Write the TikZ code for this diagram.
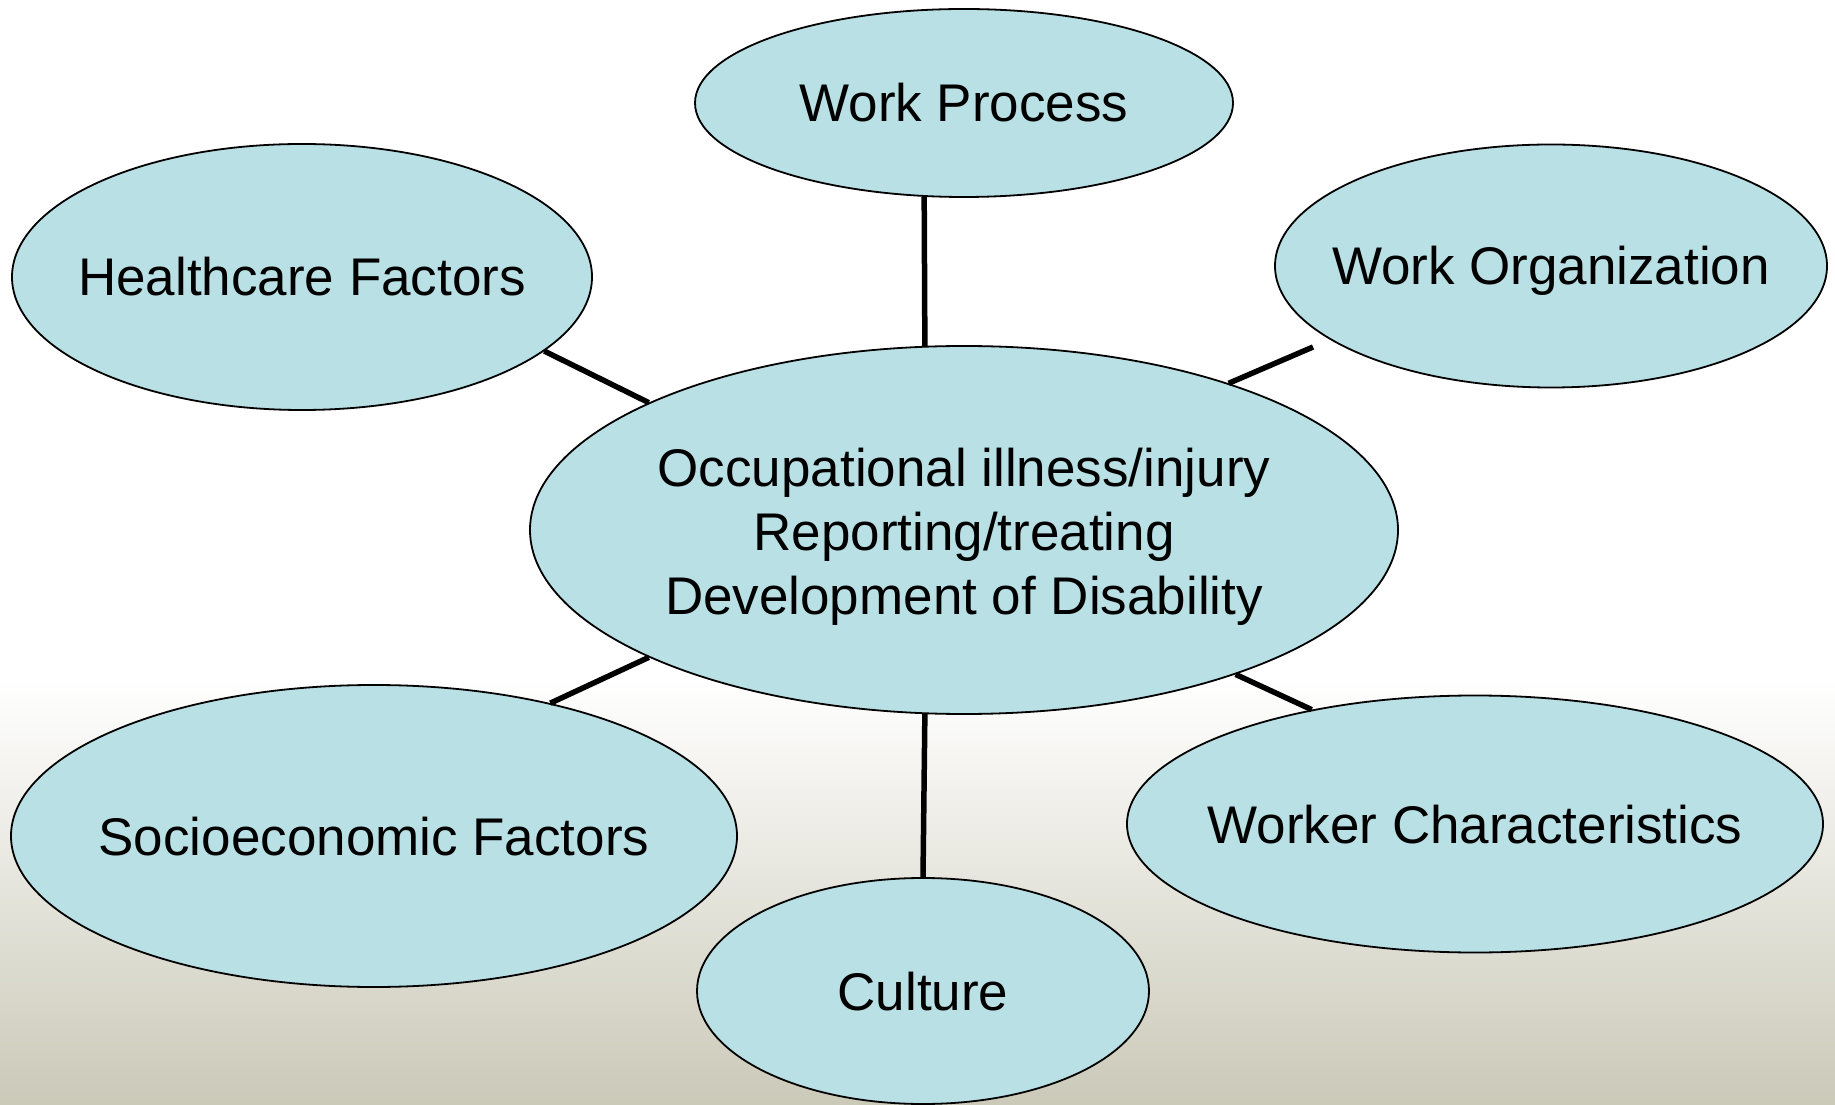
\documentclass[tikz,border=0pt]{standalone}
\usepackage{fontspec}
\setmainfont{Liberation Sans}
\usepackage{tikz}
\usetikzlibrary{shapes.geometric}

\definecolor{blobfill}{RGB}{185,224,228}
\definecolor{bgtan}{RGB}{203,201,184}

\begin{document}
\begin{tikzpicture}[x = 1pt, y = 1pt,
                        blob/.style = {ellipse, draw, line width = 1.8pt, fill = blobfill, inner sep = 0pt},
                        link/.style = {line width = 5.5pt},
                        every label/.style = {font = \fontsize{53}{64}\selectfont, text height = 38pt, text depth = 0pt}]
      \useasboundingbox (0, 0) rectangle (1835, 1104);
      \fill [white] (0, 0) rectangle (1835, 1104);
      \shade [top color = white, bottom color = bgtan] (0, 0) rectangle (1835, 424);

      \node [blob, minimum width = 868pt, minimum height = 368pt,
             label = {[align = center, text height = , text depth = , yshift = -7pt]center:Occupational illness/injury\\Reporting/treating\\Development of Disability}]
             (occ) at (964, 574){};
      \node [blob, minimum width = 538pt, minimum height = 188pt, label = center:Work Process] (wp) at (964, 1001){};
      \node [blob, minimum width = 580pt, minimum height = 266pt, label = center:Healthcare Factors] (hc) at (302, 827){};
      \node [blob, minimum width = 552pt, minimum height = 243pt, label = center:Work Organization] (wo) at (1551, 838){};
      \node [blob, minimum width = 726pt, minimum height = 302pt, label = center:Socioeconomic Factors] (se) at (374, 268){};
      \node [blob, minimum width = 696pt, minimum height = 257pt, label = center:Worker Characteristics] (wk) at (1475, 280){};
      \node [blob, minimum width = 452pt, minimum height = 226pt, label = center:Culture] (cu) at (923, 113){};
      \coordinate (woend) at (1313, 757);

      \draw [link] (wp.-113) -- (occ.102);
      \draw [link] (hc.-17) -- (occ.158);
      \draw [link] (woend) -- (occ.29);
      \draw [link] (se.37) -- (occ.-158);
      \draw [link] (wk.145) -- (occ.-28);
      \draw [link] (cu.90) -- (occ.-102);
    \end{tikzpicture}
\end{document}
